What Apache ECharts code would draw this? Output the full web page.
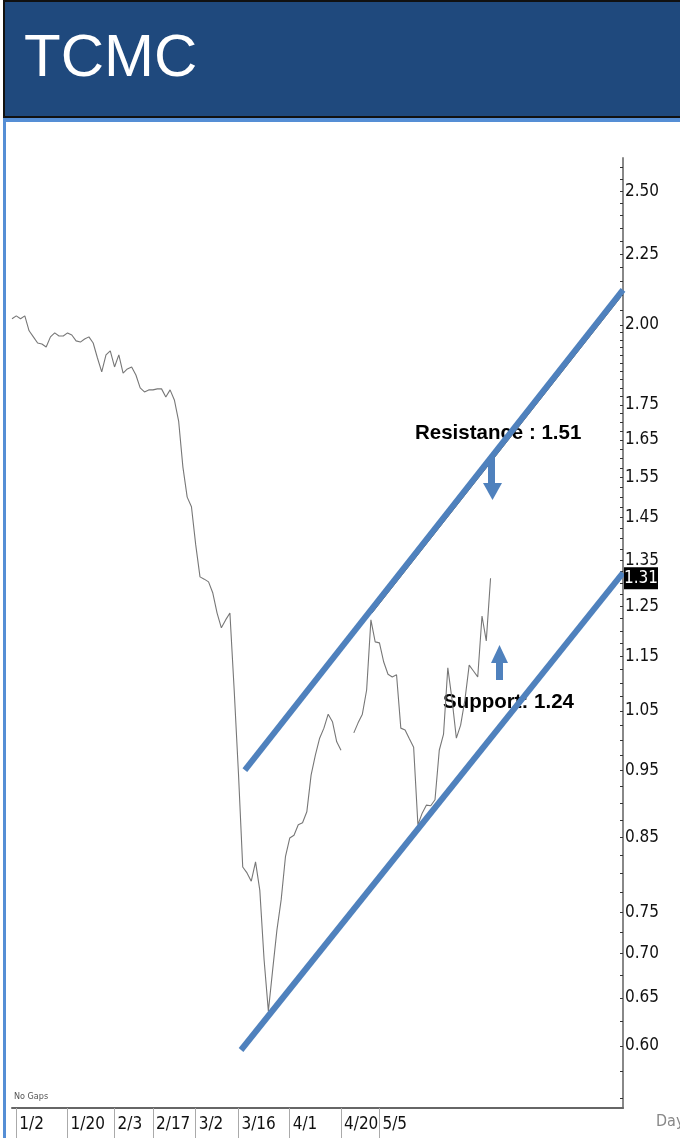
<!DOCTYPE html>
<html><head><meta charset="utf-8">
<script src="https://cdn.jsdelivr.net/npm/echarts@6/dist/echarts.min.js"></script>
<style>html,body{margin:0;padding:0;background:#fff;overflow:hidden}#c{width:680px;height:1138px;}</style>
</head><body><div id="c"></div>
<script>
const title = 'TCMC';
// daily closes (trading-day index = array position)
const prices = [
  2.02, 2.03, 2.02, 2.03, 1.98, 1.96, 1.94, 1.937, 1.927, 1.96,
  1.973, 1.963, 1.963, 1.973, 1.966, 1.947, 1.943, 1.953, 1.96, 1.94,
  1.892, 1.849, 1.902, 1.915, 1.864, 1.902, 1.845, 1.858, 1.864, 1.839,
  1.80, 1.788, 1.794, 1.794, 1.797, 1.797, 1.773, 1.794, 1.764, 1.703,
  1.577, 1.500, 1.476, 1.385, 1.313, 1.308, 1.302, 1.278, 1.236, 1.206,
  1.222, 1.236, 1.087, 0.946, 0.809, 0.801, 0.790, 0.816, 0.778, 0.693,
  0.636, 0.681, 0.728, 0.766, 0.823, 0.849, 0.853, 0.868, 0.871, 0.887,
  0.943, 0.975, 1.003, 1.020, 1.044, 1.031, 0.997, 0.983, null, null,
  1.012, 1.029, 1.044, 1.087, 1.222, 1.178, 1.176, 1.139, 1.116, 1.111,
  1.115, 1.020, 1.017, 1.002, 0.988, 0.868, 0.885, 0.897, 0.896, 0.905,
  0.983, 1.010, 1.128, 1.069, 1.003, 1.025, 1.069, 1.133, 1.122, 1.111,
  1.23, 1.18, 1.31
];
const xTickIdx = [1, 13, 24, 33, 43, 53, 65, 77, 86];
const xTickLabels = ['1/2', '1/20', '2/3', '2/17', '3/2', '3/16', '4/1', '4/20', '5/5'];
const yTickValues = [2.50, 2.25, 2.00, 1.75, 1.65, 1.55, 1.45, 1.35, 1.25, 1.15, 1.05, 0.95, 0.85, 0.75, 0.70, 0.65, 0.60];
const resistanceLine = [[54.5, 0.951], [143, 2.12]];
const supportLine = [[53.6, 0.596], [143, 1.3215]];
const trendLine = [[84.25, 1.236], [142.5, 2.095]];
const resistanceLabel = 'Resistance : 1.51';
const supportLabel = 'Support: 1.24';
const xLabelMap = {};
xTickIdx.forEach((v, i) => { xLabelMap[v] = xTickLabels[i]; });

const yMin = 0.541, yMax = 2.642, xMax = 143;
const minorTicks = [];
for (let v = 0.55; v < 2.0; v += 0.025) minorTicks.push(Math.log(v));
for (let v = 2.0; v <= 2.62; v += 0.05) minorTicks.push(Math.log(v));

const NARROW = '"Liberation Sans Narrow", "DejaVu Sans Condensed", sans-serif';
const BLUE = '#4F81BD';
const toLog = pts => pts.map(p => [p[0], Math.log(p[1])]);

const chart = echarts.init(document.getElementById('c'), null, {renderer: 'canvas'});
chart.setOption({
  animation: false,
  backgroundColor: '#fff',
  grid: {left: 12, right: 57, top: 158, bottom: 30},
  xAxis: {
    type: 'value', min: 0, max: xMax,
    axisLine: {show: true, onZero: false, lineStyle: {color: '#666', width: 2}},
    splitLine: {show: false},
    axisTick: {show: true, customValues: xTickIdx, length: 30, lineStyle: {color: '#aaa', width: 1}},
    axisLabel: {
      customValues: xTickIdx, formatter: v => xLabelMap[Math.round(v)] || '',
      hideOverlap: false,
      align: 'left', verticalAlign: 'top', padding: [0, 0, 0, 3], margin: 8,
      fontSize: 17, fontFamily: NARROW, color: '#111'
    }
  },
  yAxis: {
    type: 'value', position: 'right', min: Math.log(yMin), max: Math.log(yMax),
    axisLine: {show: true, onZero: false, lineStyle: {color: '#888', width: 2}},
    splitLine: {show: false},
    axisTick: {show: true, customValues: minorTicks, inside: true, length: 3, lineStyle: {color: '#333', width: 1}},
    axisLabel: {
      customValues: yTickValues.map(Math.log), formatter: v => Math.exp(v).toFixed(2),
      hideOverlap: false,
      margin: 2, fontSize: 17, fontFamily: NARROW, color: '#111'
    }
  },
  series: [
    {type: 'line', data: prices.map((p, i) => [i, p == null ? '-' : Math.log(p)]),
     showSymbol: false, connectNulls: false, silent: true, z: 2,
     lineStyle: {color: '#777', width: 1.1}},
    {type: 'line', data: toLog(trendLine), showSymbol: false, silent: true, z: 3,
     lineStyle: {color: '#555', width: 1}},
    {type: 'line', data: toLog(resistanceLine), showSymbol: false, silent: true, z: 4,
     lineStyle: {color: BLUE, width: 6, cap: 'butt'}},
    {type: 'line', data: toLog(supportLine), showSymbol: false, silent: true, z: 4,
     lineStyle: {color: BLUE, width: 6, cap: 'butt'}}
  ]
});

const lastPrice = prices[prices.length - 1];
const yLast = chart.convertToPixel({yAxisIndex: 0}, Math.log(lastPrice));

chart.setOption({
  graphic: [
    {type: 'rect', z: 50, shape: {x: 4, y: 1, width: 690, height: 116}, style: {fill: '#1F497D', stroke: '#111', lineWidth: 2}},
    {type: 'rect', z: 50, shape: {x: 3, y: 118, width: 677, height: 4}, style: {fill: '#558ED5'}},
    {type: 'rect', z: 50, shape: {x: 3, y: 118, width: 3, height: 1020}, style: {fill: '#558ED5'}},
    {type: 'text', z: 51, x: 24, y: 59, style: {text: title, fill: '#fff', font: '60px "Liberation Sans", Arial, sans-serif', verticalAlign: 'middle', textVerticalAlign: 'middle'}},
    {type: 'text', z: 0, x: 415, y: 433, style: {text: resistanceLabel, fill: '#000', font: 'bold 20.5px "Liberation Sans", Arial, sans-serif', verticalAlign: 'middle', textVerticalAlign: 'middle'}},
    {type: 'text', z: 0, x: 443, y: 702, style: {text: supportLabel, fill: '#000', font: 'bold 20.5px "Liberation Sans", Arial, sans-serif', verticalAlign: 'middle', textVerticalAlign: 'middle'}},
    {type: 'rect', z: 5, shape: {x: 488, y: 458, width: 7, height: 26}, style: {fill: BLUE}},
    {type: 'polygon', z: 5, shape: {points: [[483, 483], [502, 483], [492.5, 500]]}, style: {fill: BLUE}},
    {type: 'rect', z: 5, shape: {x: 496, y: 662, width: 7, height: 18}, style: {fill: BLUE}},
    {type: 'polygon', z: 5, shape: {points: [[491, 663], [508, 663], [499.5, 645]]}, style: {fill: BLUE}},
    {type: 'rect', z: 60, shape: {x: 624, y: yLast - 11, width: 34, height: 22}, style: {fill: '#000'}},
    {type: 'text', z: 61, x: 641, y: yLast, style: {text: lastPrice.toFixed(2), fill: '#fff', font: '17px ' + NARROW, align: 'center', textAlign: 'center', verticalAlign: 'middle', textVerticalAlign: 'middle'}},
    {type: 'text', z: 10, x: 14, y: 1097, style: {text: 'No Gaps', fill: '#555', font: '9px ' + NARROW, verticalAlign: 'middle', textVerticalAlign: 'middle'}},
    {type: 'text', z: 10, x: 656, y: 1122, style: {text: 'Day', fill: '#888', font: '16px ' + NARROW, verticalAlign: 'middle', textVerticalAlign: 'middle'}}
  ]
});
</script>
</body></html>
